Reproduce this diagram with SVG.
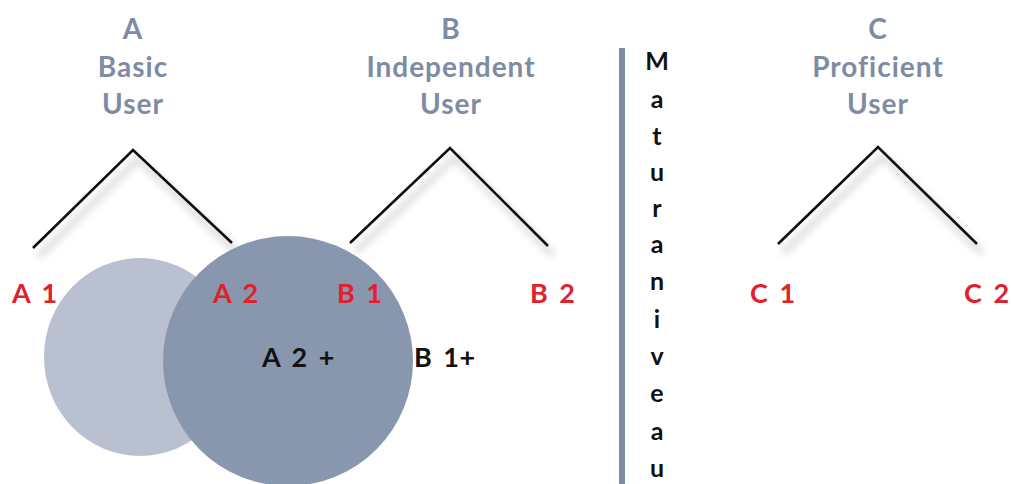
<svg xmlns="http://www.w3.org/2000/svg" width="1011" height="484" viewBox="0 0 1011 484">
<defs>
<style>
.title{font-family:Lato,"Open Sans",sans-serif;font-weight:bold;font-size:28px;letter-spacing:1px;fill:#7d8ca4;text-anchor:middle}
.lvl{font-family:Lato,"Open Sans",sans-serif;font-weight:bold;font-size:27px;word-spacing:4px;letter-spacing:0.5px;fill:#e2202b}
.plus{font-family:Lato,"Open Sans",sans-serif;font-weight:bold;font-size:27px;word-spacing:4px;letter-spacing:0.5px;fill:#111}
.vert{font-family:Lato,"Open Sans",sans-serif;font-weight:bold;font-size:25px;fill:#111;text-anchor:middle}
.peak{fill:none;stroke:#111;stroke-width:2.6}
</style>
<filter id="sh" x="-20%" y="-20%" width="140%" height="160%">
<feGaussianBlur in="SourceAlpha" stdDeviation="4"/>
<feOffset dx="5" dy="9" result="b"/>
<feComponentTransfer><feFuncA type="linear" slope="0.35"/></feComponentTransfer>
<feMerge><feMergeNode/><feMergeNode in="SourceGraphic"/></feMerge>
</filter>
</defs>
<rect width="1011" height="484" fill="#fff"/>
<g id="connectors" filter="url(#sh)">
<polyline class="peak" points="33,248 133,150 232,243"/>
<polyline class="peak" points="350,243 450,148 548,246"/>
<polyline class="peak" points="778,244 878,147 977,244"/>
</g>
<g id="circles">
<ellipse id="circle-a" cx="140" cy="357" rx="96" ry="99" fill="#b9c1d1"/>
<ellipse id="circle-b" cx="288" cy="361" rx="125" ry="125" fill="#8896ae"/>
</g>
<g id="node-a">
<text class="title" x="133" y="39">A</text>
<text class="title" x="133" y="77">Basic</text>
<text class="title" x="133" y="114">User</text>
</g>
<g id="node-b">
<text class="title" x="451" y="39">B</text>
<text class="title" x="451" y="77">Independent</text>
<text class="title" x="451" y="114">User</text>
</g>
<g id="node-c">
<text class="title" x="878" y="39">C</text>
<text class="title" x="878" y="77">Proficient</text>
<text class="title" x="878" y="114">User</text>
</g>
<g id="levels">
<text class="lvl" x="12" y="303">A 1</text>
<text class="lvl" x="213" y="303">A 2</text>
<text class="lvl" x="337" y="303">B 1</text>
<text class="lvl" x="530" y="303">B 2</text>
<text class="lvl" x="750" y="303">C 1</text>
<text class="lvl" x="964" y="303">C 2</text>
</g>
<g id="plus-labels">
<text class="plus" x="262" y="367">A 2 +</text>
<text class="plus" x="414" y="367">B 1+</text>
</g>
<g id="matura">
<rect x="619" y="48" width="6" height="436" fill="#7d8ca4"/>
<text class="vert" x="657" y="70">M</text>
<text class="vert" x="657" y="108">a</text>
<text class="vert" x="657" y="145">t</text>
<text class="vert" x="657" y="181">u</text>
<text class="vert" x="657" y="217">r</text>
<text class="vert" x="657" y="253">a</text>
<text class="vert" x="657" y="290">n</text>
<text class="vert" x="657" y="328">i</text>
<text class="vert" x="657" y="365">v</text>
<text class="vert" x="657" y="402">e</text>
<text class="vert" x="657" y="440">a</text>
<text class="vert" x="657" y="477">u</text>
</g>
</svg>
